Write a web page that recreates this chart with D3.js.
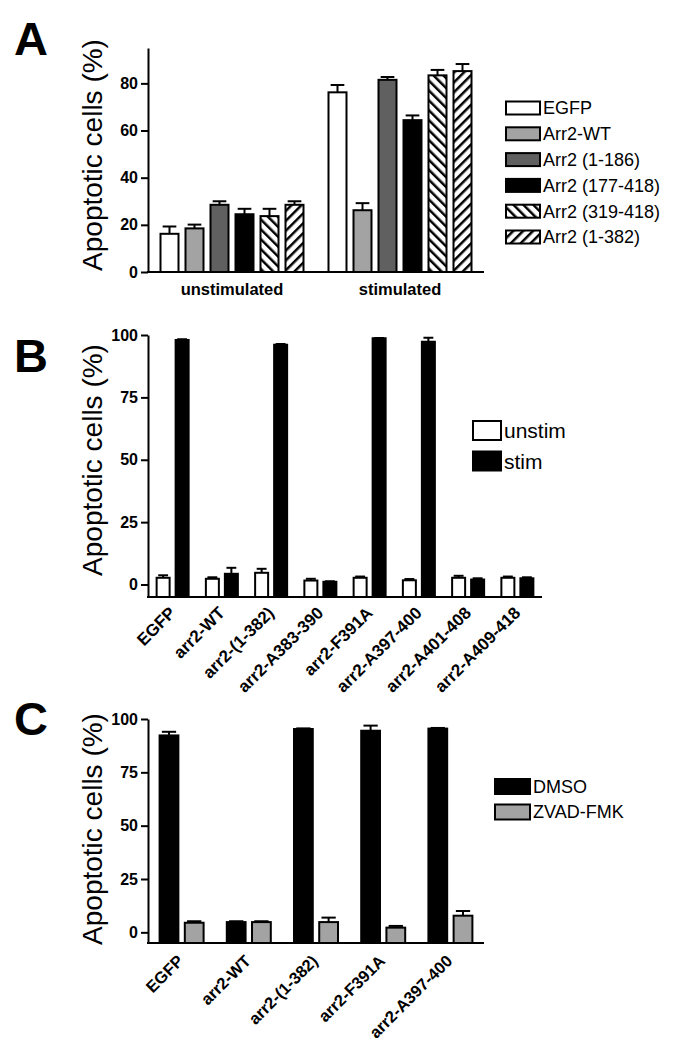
<!DOCTYPE html>
<html><head><meta charset="utf-8">
<script src="https://cdn.jsdelivr.net/npm/d3@7"></script>
<style>
body{margin:0;background:#fff;}
text{font-family:Arial,Helvetica,sans-serif;}
</style></head>
<body>
<svg id="fig" width="678" height="1050"></svg>
<script>
// ---------- Panel A data ----------
const groupsA = ["unstimulated", "stimulated"];
const seriesA = ["EGFP", "Arr2-WT", "Arr2 (1-186)", "Arr2 (177-418)", "Arr2 (319-418)", "Arr2 (1-382)"];
const unstimA = [16.2, 18.5, 28.5, 24.5, 23.7, 28.5];
const unstimErrA = [3.1, 1.6, 1.5, 2.3, 3.1, 1.5];
const stimA = [76.2, 26.2, 81.5, 64.4, 83.4, 85.2];
const stimErrA = [3.1, 3.0, 1.2, 2.0, 2.3, 3.0];
const ticksA = [0, 20, 40, 60, 80];

// ---------- Panel B data ----------
const catsB = ["EGFP", "arr2-WT", "arr2-(1-382)", "arr2-A383-390", "arr2-F391A", "arr2-A397-400", "arr2-A401-408", "arr2-A409-418"];
const seriesB = ["unstim", "stim"];
const unstimB = [2.7, 2.3, 4.7, 1.6, 2.7, 1.7, 2.7, 2.7];
const unstimErrB = [1.0, 0.6, 1.6, 0.7, 0.5, 0.5, 0.8, 0.5];
const stimB = [98.0, 4.3, 96.1, 1.1, 98.7, 97.3, 2.0, 2.5];
const stimErrB = [0.3, 2.4, 0.3, 0.2, 0.1, 1.6, 0.5, 0.4];
const ticksBC = [0, 25, 50, 75, 100];

// ---------- Panel C data ----------
const catsC = ["EGFP", "arr2-WT", "arr2-(1-382)", "arr2-F391A", "arr2-A397-400"];
const seriesC = ["DMSO", "ZVAD-FMK"];
const dmsoC = [92.3, 4.8, 95.3, 94.5, 95.5];
const dmsoErrC = [1.7, 0.4, 0.3, 2.4, 0.3];
const zvadC = [4.5, 4.8, 4.8, 2.2, 7.8];
const zvadErrC = [0.7, 0.4, 2.1, 0.8, 2.2];

const FONT = "Arial, Helvetica, sans-serif";
const svg = d3.select("#fig");
const defs = svg.append("defs");
function hatch(id, dir) {
  const p = defs.append("pattern").attr("id", id).attr("patternUnits", "userSpaceOnUse")
    .attr("width", 7).attr("height", 7)
    .attr("patternTransform", dir > 0 ? "rotate(45)" : "rotate(-45)");
  p.append("rect").attr("width", 7).attr("height", 7).attr("fill", "#fff");
  p.append("line").attr("x1", 0).attr("y1", 0).attr("x2", 0).attr("y2", 7)
    .attr("stroke", "#000").attr("stroke-width", 5);
}
hatch("hatchBack", -1); // "\\\"
hatch("hatchFwd", 1);   // "///"

const fillsA = ["#ffffff", "#a3a3a3", "#606060", "#000000", "url(#hatchBack)", "url(#hatchFwd)"];

function yAxis(g, y, ticks) {
  const ax = g.append("g").attr("transform", "translate(148,0)")
    .call(d3.axisLeft(y).tickValues(ticks).tickSize(7).tickSizeOuter(0).tickPadding(3).tickFormat(d3.format("d")));
  ax.attr("font-family", FONT);
  ax.select(".domain").attr("stroke-width", 2);
  ax.selectAll(".tick line").attr("stroke-width", 2);
  ax.selectAll(".tick text").attr("font-size", 16).attr("font-weight", "bold")
    .style("font-family", FONT).attr("fill", "#000");
}
function yLabel(cy) {
  svg.append("text").attr("transform", `translate(102,${cy}) rotate(-90)`)
    .attr("text-anchor", "middle").attr("font-size", 28).text("Apoptotic cells (%)");
}
function letter(t, y) {
  svg.append("text").attr("x", 14).attr("y", y).attr("font-size", 47)
    .attr("font-weight", "bold").text(t);
}
function bars(g, data, x0, sub, y, yBase) {
  g.selectAll("rect.bar").data(data).join("rect").attr("class", "bar")
    .attr("x", d => x0(d.cat) + x0.bandwidth() / 2 + sub(d.s))
    .attr("width", sub.bandwidth())
    .attr("y", d => y(d.v))
    .attr("height", d => y(yBase) - y(d.v))
    .attr("fill", d => d.fill).attr("stroke", "#000").attr("stroke-width", 2);
  const eb = g.selectAll("g.err").data(data).join("g").attr("class", "err");
  eb.append("line")
    .attr("x1", d => x0(d.cat) + x0.bandwidth() / 2 + sub(d.s) + sub.bandwidth() / 2)
    .attr("x2", d => x0(d.cat) + x0.bandwidth() / 2 + sub(d.s) + sub.bandwidth() / 2)
    .attr("y1", d => y(d.v)).attr("y2", d => y(d.v + d.e))
    .attr("stroke", "#000").attr("stroke-width", 2);
  eb.append("line")
    .attr("x1", d => x0(d.cat) + x0.bandwidth() / 2 + sub(d.s) + sub.bandwidth() * 0.12)
    .attr("x2", d => x0(d.cat) + x0.bandwidth() / 2 + sub(d.s) + sub.bandwidth() * 0.88)
    .attr("y1", d => y(d.v + d.e)).attr("y2", d => y(d.v + d.e))
    .attr("stroke", "#000").attr("stroke-width", 2);
}
function xLine(g, x1, x2, yy) {
  g.append("line").attr("x1", x1 - 1).attr("x2", x2).attr("y1", yy).attr("y2", yy)
    .attr("stroke", "#000").attr("stroke-width", 2);
}
function legend(items, x, y0, step, bw, bh, fs, tx) {
  items.forEach((it, i) => {
    const cy = y0 + i * step;
    svg.append("rect").attr("x", x).attr("y", cy - bh / 2).attr("width", bw).attr("height", bh)
      .attr("fill", it.fill).attr("stroke", "#000").attr("stroke-width", 2);
    svg.append("text").attr("x", tx).attr("y", cy + fs * 0.36).attr("font-size", fs).text(it.label);
  });
}

// ================= Panel A =================
{
  const g = svg.append("g");
  const y = d3.scaleLinear().domain([0, 95]).range([272, 48]);
  const x0 = d3.scaleBand().domain(groupsA).range([148, 484]);
  const sub = d3.scaleBand().domain(seriesA).range([-71.5, 71.5]).paddingInner(0.28).paddingOuter(0);
  const data = [];
  seriesA.forEach((s, i) => {
    data.push({cat: groupsA[0], s, v: unstimA[i], e: unstimErrA[i], fill: fillsA[i]});
    data.push({cat: groupsA[1], s, v: stimA[i], e: stimErrA[i], fill: fillsA[i]});
  });
  bars(g, data, x0, sub, y, 0);
  yAxis(g, y, ticksA);
  xLine(g, 148, 484, y(0));
  g.selectAll("text.xl").data(groupsA).join("text").attr("class", "xl")
    .attr("x", d => x0(d) + x0.bandwidth() / 2).attr("y", 295)
    .attr("text-anchor", "middle").attr("font-size", 16.5).attr("font-weight", "bold").text(d => d);
  yLabel(155);
  letter("A", 55);
  legend(seriesA.map((s, i) => ({label: s, fill: fillsA[i]})), 506, 108, 25.8, 34, 13, 18, 543);
}

// ================= Panel B =================
{
  const g = svg.append("g");
  const y = d3.scaleLinear().domain([-5, 100]).range([597, 335]);
  const x0 = d3.scaleBand().domain(catsB).range([148, 542]);
  const sub = d3.scaleBand().domain(seriesB).range([-16, 16]).paddingInner(0.316).paddingOuter(0);
  const fills = ["#ffffff", "#000000"];
  const data = [];
  catsB.forEach((c, i) => {
    data.push({cat: c, s: "unstim", v: unstimB[i], e: unstimErrB[i], fill: fills[0]});
    data.push({cat: c, s: "stim", v: stimB[i], e: stimErrB[i], fill: fills[1]});
  });
  bars(g, data, x0, sub, y, -5);
  yAxis(g, y, ticksBC);
  xLine(g, 148, 542, y(-5));
  g.selectAll("text.xl").data(catsB).join("text").attr("class", "xl")
    .attr("transform", d => `translate(${x0(d) + x0.bandwidth() / 2 + 4},${y(-5) + 17}) rotate(-45)`)
    .attr("text-anchor", "end").attr("font-size", 17).attr("font-weight", "bold").text(d => d);
  yLabel(460);
  letter("B", 372);
  legend(seriesB.map((s, i) => ({label: s, fill: fills[i]})), 473, 430.5, 30.5, 28, 19, 21, 504);
}

// ================= Panel C =================
{
  const g = svg.append("g");
  const y = d3.scaleLinear().domain([-5, 100]).range([943, 719]);
  const x0 = d3.scaleBand().domain(catsC).range([148, 484]);
  const sub = d3.scaleBand().domain(seriesC).range([-22, 22]).paddingInner(0.255).paddingOuter(0);
  const fills = ["#000000", "#a3a3a3"];
  const data = [];
  catsC.forEach((c, i) => {
    data.push({cat: c, s: "DMSO", v: dmsoC[i], e: dmsoErrC[i], fill: fills[0]});
    data.push({cat: c, s: "ZVAD-FMK", v: zvadC[i], e: zvadErrC[i], fill: fills[1]});
  });
  bars(g, data, x0, sub, y, -5);
  yAxis(g, y, ticksBC);
  xLine(g, 148, 484, y(-5));
  g.selectAll("text.xl").data(catsC).join("text").attr("class", "xl")
    .attr("transform", d => `translate(${x0(d) + x0.bandwidth() / 2 + 3},${y(-5) + 19}) rotate(-45)`)
    .attr("text-anchor", "end").attr("font-size", 16.5).attr("font-weight", "bold").text(d => d);
  yLabel(829);
  letter("C", 735);
  legend(seriesC.map((s, i) => ({label: s, fill: fills[i]})), 495, 786.5, 25.5, 35, 15, 18, 533);
}
</script>
</body></html>
